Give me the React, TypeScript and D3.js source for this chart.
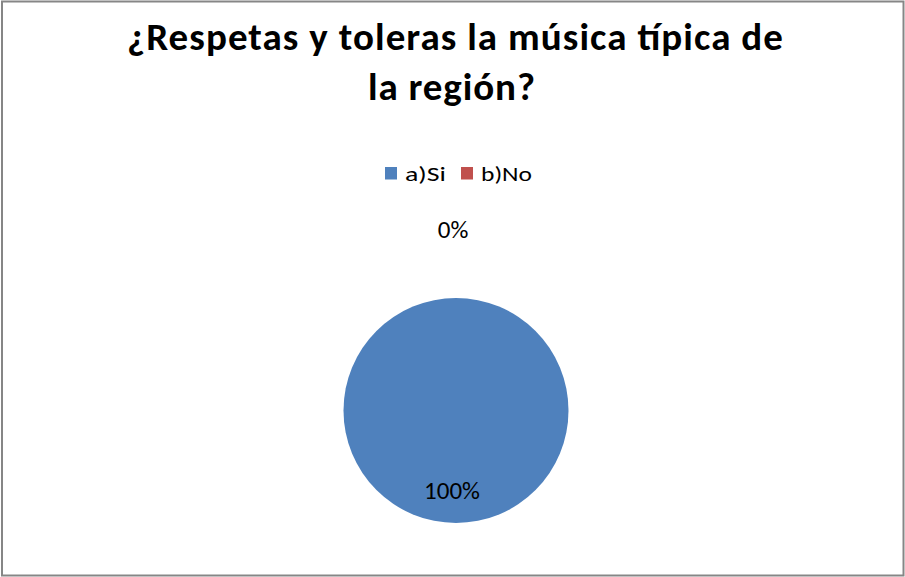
import React from "react";
import * as d3 from "d3";

const categories = ["a)Si", "b)No"];
const values = [100, 0];
const colors = ["#4F81BD", "#C0504D"];
const titleLines = ["¿Respetas y toleras la música típica de", "la región?"];

export default function App() {
  const W = 905, H = 577;
  const cx = 456, cy = 410.5, r = 112.5;
  const pie = d3.pie<number>().sort(null).value((d) => d)(values);
  const arc = d3.arc<d3.PieArcDatum<number>>().innerRadius(0).outerRadius(r);
  const inArc = d3.arc<d3.PieArcDatum<number>>().innerRadius(r * 0.71).outerRadius(r * 0.71);
  const outArc = d3.arc<d3.PieArcDatum<number>>().innerRadius(r + 68.5).outerRadius(r + 68.5);
  const total = d3.sum(values);
  const font = "Carlito, Calibri, 'Open Sans', 'Liberation Sans', sans-serif";
  const titleX = [455, 451.5];
  const titleLen = [656, 167];
  const legX = [385, 461];
  const legLen = [41, 51];
  return (
    <svg width={W} height={H} style={{ position: "absolute", left: 0, top: 0 }}>
      <rect x={0} y={0} width={W} height={H} fill="#fff" />
      <rect x={2} y={1.5} width={901.5} height={574} fill="none" stroke="#868686" strokeWidth={2} />
      {titleLines.map((t, i) => (
        <text key={i} x={titleX[i] - titleLen[i] / 2} y={50 + i * 50} fontFamily={font}
          fontWeight="bold" fontSize={39} fill="#000" textLength={titleLen[i]} lengthAdjust="spacing">{t}</text>
      ))}
      <g>
        {categories.map((c, i) => (
          <g key={c}>
            <rect x={legX[i]} y={167} width={12} height={12.5} fill={colors[i]} />
            <text x={legX[i] + 20} y={181} fontFamily={font} fontSize={21} fill="#000"
              textLength={legLen[i]} lengthAdjust="spacingAndGlyphs">{c}</text>
          </g>
        ))}
      </g>
      <g transform={`translate(${cx},${cy})`}>
        {pie.map((p, i) => (
          <path key={i} d={arc(p) || ""} fill={colors[i]} />
        ))}
        {pie.map((p, i) => {
          const pct = Math.round((p.data / total) * 100) + "%";
          const inside = p.endAngle - p.startAngle > 0.5;
          const [x, y] = inside ? inArc.centroid(p) : outArc.centroid(p);
          return (
            <text key={"l" + i} x={x + (inside ? -4 : -3)} y={y} dy="0.33em" textAnchor="middle"
              fontFamily={font} fontSize={25} fill="#000">{pct}</text>
          );
        })}
      </g>
    </svg>
  );
}
